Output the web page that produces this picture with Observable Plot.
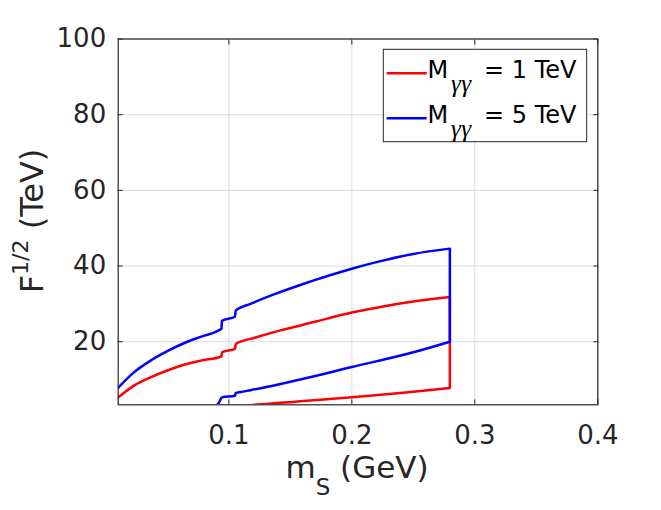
<!DOCTYPE html>
<html><head><meta charset="utf-8">
<script src="https://cdn.jsdelivr.net/npm/d3@7"></script>
<script src="https://cdn.jsdelivr.net/npm/@observablehq/plot@0.6"></script>
<style>body{margin:0;background:#fff}#chart svg{display:block}</style>
</head><body><div id="chart"></div>
<script>
// axis settings
const xDomain = [0.01, 0.4];
const yDomain = [3.33, 100];
const xTicks = [0.1, 0.2, 0.3, 0.4];
const yTicks = [20, 40, 60, 80, 100];
const seriesNames = ["1 TeV", "5 TeV"];
const seriesColors = ["#ff0000", "#0000ff"];

// M = 1 TeV (red) boundary: upper branch and lower branch, [m_S, F^1/2]
const redUpper = [[0.0101,5.3],[0.0228,8.4],[0.0363,10.6],[0.0499,12.4],[0.0634,13.9],[0.077,15.0],[0.0940,16.1],[0.0943,17.2],[0.1050,18.1],[0.1055,19.4],[0.1217,21.1],[0.142,23.0],[0.158,24.3],[0.169,25.2],[0.2,27.7],[0.2233,29.2],[0.25,30.6],[0.2797,31.8]];
const redLower = [[0.115,3.15],[0.12,3.3],[0.142,3.85],[0.158,4.25],[0.1746,4.66],[0.2,5.3],[0.25,6.75],[0.2797,7.8]];
// M = 5 TeV (blue)
const blueUpper = [[0.0101,7.9],[0.0228,11.9],[0.0363,15.0],[0.0499,17.5],[0.0634,19.6],[0.077,21.3],[0.0940,23.4],[0.0943,25.5],[0.1050,26.6],[0.1055,28.2],[0.1176,30.0],[0.1366,32.5],[0.158,35.0],[0.169,36.2],[0.2,39.3],[0.2233,41.3],[0.25,43.2],[0.2797,44.6]];
const blueLower = [[0.0893,3.0],[0.0915,3.7],[0.0935,4.9],[0.0943,5.3],[0.1050,5.7],[0.1055,6.4],[0.1095,6.7],[0.1176,7.2],[0.142,8.85],[0.158,10.0],[0.2,13.3],[0.25,17.2],[0.2797,20.0]];

const toRows = pts => pts.map(([x, y]) => ({x, y}));
// closing vertical edge at the high-mass end, taken from the branch end points
const edge = (upper, lower) => [{x: upper[upper.length - 1][0], y1: lower[lower.length - 1][1], y2: upper[upper.length - 1][1]}];

const W = 661, H = 510;
const mL = 117.7, mR = 63.7, mT = 38.5, mB = 105.7;
const axisColor = "#262626";
const noText = () => "";
const lw = 2.5;

function seriesMarks(upper, lower, color) {
  return [
    Plot.line(toRows(upper), {x: "x", y: "y", stroke: color, strokeWidth: lw, curve: "monotone-x", clip: true}),
    Plot.line(toRows(lower), {x: "x", y: "y", stroke: color, strokeWidth: lw, curve: "monotone-x", clip: true}),
    Plot.ruleX(edge(upper, lower), {x: "x", y1: "y1", y2: "y2", stroke: color, strokeWidth: lw, clip: true})
  ];
}

const svg = Plot.plot({
  width: W, height: H,
  marginLeft: mL, marginRight: mR, marginTop: mT, marginBottom: mB,
  style: {fontFamily: "DejaVu Sans", fontSize: "26px", background: "#fff", color: axisColor},
  x: {domain: xDomain, label: null},
  y: {domain: yDomain, label: null},
  marks: [
    Plot.gridX(xTicks, {stroke: "#dcdcdc", strokeOpacity: 1, strokeWidth: 1}),
    Plot.gridY(yTicks, {stroke: "#dcdcdc", strokeOpacity: 1, strokeWidth: 1}),
    ...seriesMarks(redUpper, redLower, seriesColors[0]),
    ...seriesMarks(blueUpper, blueLower, seriesColors[1]),
    Plot.frame({stroke: axisColor, strokeWidth: 1.2}),
    Plot.axisX(xTicks, {anchor: "bottom", tickSize: 0, tickPadding: 21, tickFormat: d => String(d), label: null, fill: axisColor}),
    Plot.axisY(yTicks, {anchor: "left", tickSize: 0, tickPadding: 12, tickFormat: d => String(d), label: null, fill: axisColor}),
    Plot.axisX(xTicks, {anchor: "bottom", tickSize: -5, tickFormat: noText, label: null, stroke: axisColor}),
    Plot.axisX(xTicks, {anchor: "top", tickSize: -5, tickFormat: noText, label: null, stroke: axisColor}),
    Plot.axisY(yTicks, {anchor: "left", tickSize: -5, tickFormat: noText, label: null, stroke: axisColor}),
    Plot.axisY(yTicks, {anchor: "right", tickSize: -5, tickFormat: noText, label: null, stroke: axisColor})
  ]
});

const sel = d3.select(svg);
// y-axis label
const yl = sel.append("text").attr("transform", "translate(43,221) rotate(-90)")
  .attr("text-anchor", "middle").attr("font-size", 32).attr("fill", axisColor)
  .attr("font-family", "DejaVu Sans");
yl.append("tspan").text("F");
yl.append("tspan").attr("font-size", 22).attr("dy", -15).text("1/2");
yl.append("tspan").attr("dy", 15).text("\u00a0(TeV)");

// x-axis label
const xl = sel.append("text").attr("x", 357).attr("y", 478)
  .attr("text-anchor", "middle").attr("font-size", 31).attr("fill", axisColor)
  .attr("font-family", "DejaVu Sans");
xl.append("tspan").text("m");
xl.append("tspan").attr("font-size", 23).attr("dy", 17).text("S");
xl.append("tspan").attr("dy", -17).text("\u00a0(GeV)");

// legend
const lg = sel.append("g").attr("text-anchor", "start");
lg.append("rect").attr("x", 383.3).attr("y", 49.3).attr("width", 203.4).attr("height", 92.4)
  .attr("fill", "#fff").attr("stroke", axisColor).attr("stroke-width", 1);
seriesNames.forEach((name, i) => {
  const dy = 45 * i;
  lg.append("line").attr("x1", 386.7).attr("x2", 426.7).attr("y1", 73.3 + dy).attr("y2", 73.3 + dy)
    .attr("stroke", seriesColors[i]).attr("stroke-width", lw);
  lg.append("text").attr("text-anchor", "start").attr("x", 427.5).attr("y", 78.3 + dy).attr("font-size", 24)
    .attr("font-family", "DejaVu Sans").attr("fill", "#000").text("M");
  lg.append("text").attr("text-anchor", "start").attr("x", 451).attr("y", 92 + dy).attr("font-size", 25)
    .attr("font-family", "Liberation Serif").attr("font-style", "italic").attr("letter-spacing", 0.5)
    .attr("fill", "#000").text("γγ");
  lg.append("text").attr("text-anchor", "start").attr("x", 484).attr("y", 78.3 + dy).attr("font-size", 24)
    .attr("font-family", "DejaVu Sans").attr("fill", "#000").text("= " + name);
});

document.getElementById("chart").appendChild(svg);
</script>
</body></html>
